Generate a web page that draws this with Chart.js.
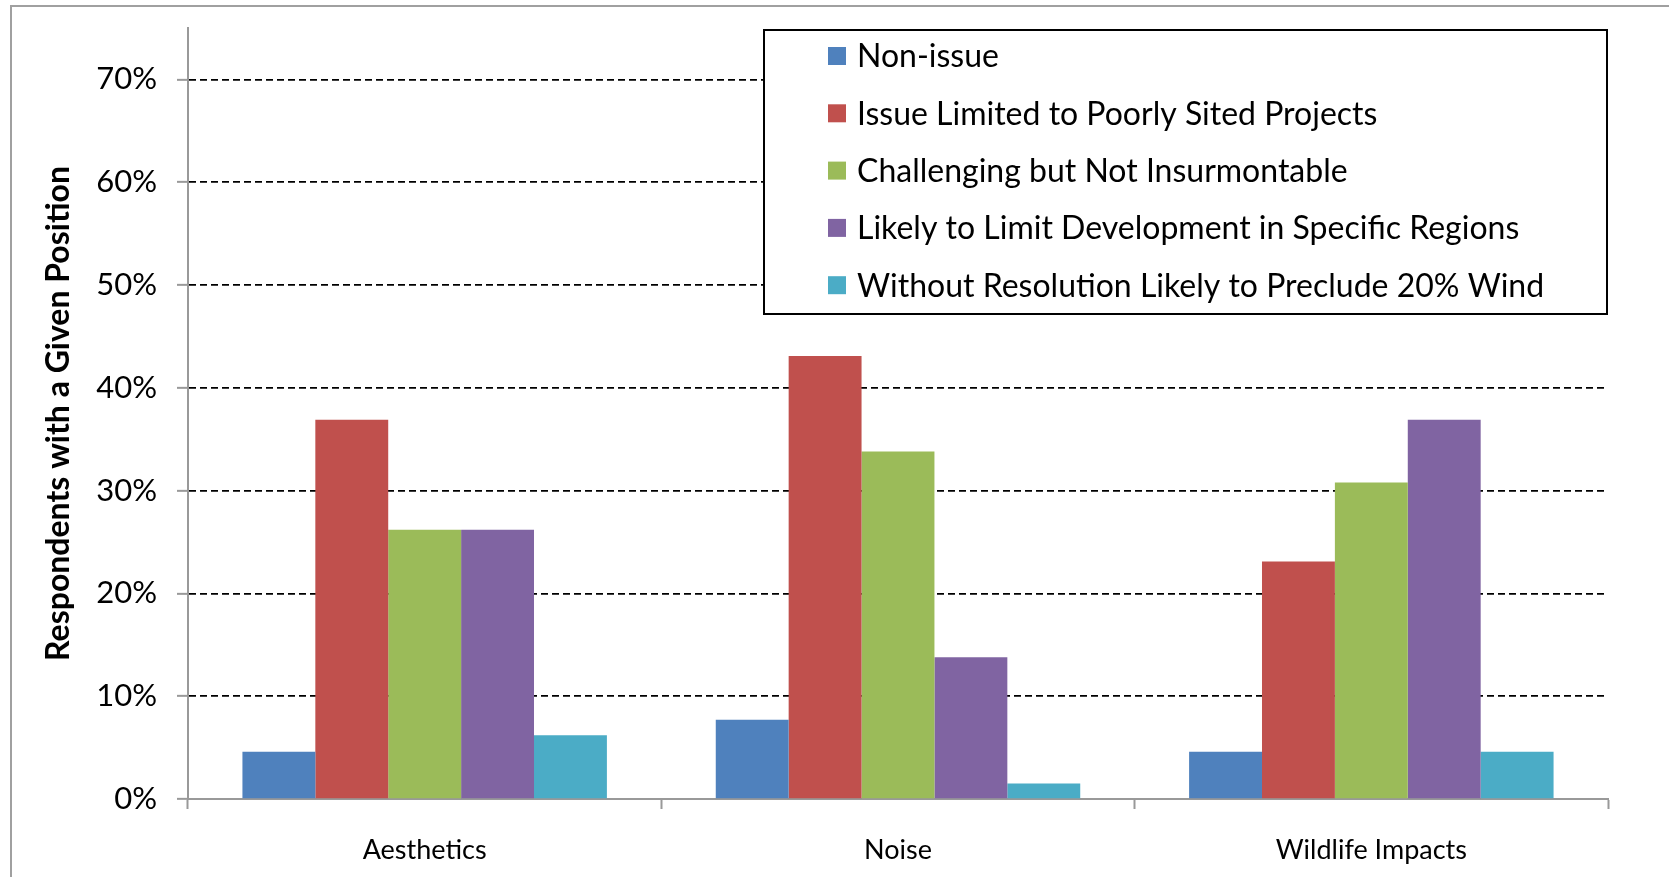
<!DOCTYPE html>
<html>
<head>
<meta charset="utf-8">
<script src="https://cdn.jsdelivr.net/npm/chart.js@4/dist/chart.umd.min.js"></script>
<style>
  html, body { margin: 0; padding: 0; background: #fff; }
  #wrap { width: 1669px; height: 877px; }
</style>
</head>
<body>
<div id="wrap"><canvas id="chart" width="1669" height="877"></canvas></div>
<script>
// ── Data (% of respondents) ──
const categories = ['Aesthetics', 'Noise', 'Wildlife Impacts'];

const seriesLabels = [
  'Non-issue',
  'Issue Limited to Poorly Sited Projects',
  'Challenging but Not Insurmontable',
  'Likely to Limit Development in Specific Regions',
  'Without Resolution Likely to Preclude 20% Wind'
];

const nonIssue     = [4.6, 7.7, 4.6];
const poorlySited  = [36.9, 43.1, 23.1];
const challenging  = [26.2, 33.8, 30.8];
const limitRegions = [26.2, 13.8, 36.9];
const preclude     = [6.2, 1.5, 4.6];

const seriesColors = ['#4F81BD', '#C0504D', '#9BBB59', '#8064A2', '#4BACC6'];

const yTicks = [0, 10, 20, 30, 40, 50, 60, 70];

// ── Fonts / styles ─────────────────────────
const FONT = 'Lato, "Open Sans", "Liberation Sans", sans-serif';

// ── Outer frame (grey line top + left) ─────
const framePlugin = {
  id: 'frame',
  beforeDraw(chart) {
    const ctx = chart.ctx;
    ctx.save();
    ctx.fillStyle = '#fff';
    ctx.fillRect(0, 0, chart.width, chart.height);
    ctx.strokeStyle = '#a0a0a0';
    ctx.lineWidth = 2;
    ctx.beginPath();
    ctx.moveTo(chart.width + 2, 6);
    ctx.lineTo(11, 6);
    ctx.lineTo(11, chart.height + 2);
    ctx.stroke();
    ctx.restore();
  }
};

// ── Boxed legend inside the plot ───────────
const boxLegend = {
  id: 'boxLegend',
  afterDraw(chart) {
    const ctx = chart.ctx;
    const box = { x: 764, y: 30, w: 843, h: 284 };
    const rowH = 57.3;
    ctx.save();
    ctx.fillStyle = '#fff';
    ctx.fillRect(box.x, box.y, box.w, box.h);
    ctx.strokeStyle = '#000';
    ctx.lineWidth = 2;
    ctx.strokeRect(box.x, box.y, box.w, box.h);

    ctx.font = '32px ' + FONT;
    ctx.textBaseline = 'middle';
    chart.data.datasets.forEach((ds, i) => {
      const cy = box.y + 26 + i * rowH;
      ctx.fillStyle = ds.backgroundColor;
      ctx.fillRect(828, cy - 9, 18, 18);
      ctx.fillStyle = '#000';
      ctx.fillText(ds.label, 857, cy + 1);
    });
    ctx.restore();
  }
};

const seriesData = [nonIssue, poorlySited, challenging, limitRegions, preclude];

new Chart(document.getElementById('chart'), {
  type: 'bar',
  data: {
    labels: categories,
    datasets: seriesData.map((d, i) => ({
      label:           seriesLabels[i],
      data:            d,
      backgroundColor: seriesColors[i],
      borderWidth:     0,
      categoryPercentage: 0.77,
      barPercentage:   1.0
    }))
  },
  options: {
    responsive: false,
    animation:  false,
    devicePixelRatio: 1,
    layout: { padding: { top: 28, right: 61, bottom: 0, left: 0 } },
    plugins: {
      legend:  { display: false },
      tooltip: { enabled: false }
    },
    scales: {
      x: {
        afterFit: (s) => { s.height = 78; s.paddingLeft = 0; s.paddingRight = 0; },
        grid: {
          offset: true,
          drawOnChartArea: false,
          drawTicks: true,
          tickLength: 10,
          tickColor: '#999',
          tickWidth: 2
        },
        border: { color: '#999', width: 2 },
        ticks: {
          color: '#000',
          padding: 25,
          font: { family: FONT, size: 27 }
        }
      },
      y: {
        min: 0,
        max: 75,
        afterFit: (s) => { s.width = 188; s.paddingTop = 0; s.paddingBottom = 0; },
        afterBuildTicks: (s) => {
          s.ticks = yTicks.map(v => ({ value: v }));
        },
        grid: {
          color: (c) => (c.tick && c.tick.value === 0) ? 'rgba(0,0,0,0)' : '#000',
          lineWidth: 1.7,
          drawTicks: true,
          tickLength: 11,
          tickColor: '#999',
          tickWidth: 2,
          tickBorderDash: []
        },
        border: { color: '#999', width: 2, dash: [7, 4] },
        ticks: {
          color: '#000',
          padding: 20,
          font: { family: FONT, size: 31 },
          callback: (v) => v + '%'
        },
        title: {
          display: true,
          text: 'Respondents with a Given Position',
          color: '#000',
          font: { family: FONT, size: 32, weight: 'bold' },
          padding: { top: 39, bottom: 0 }
        }
      }
    }
  },
  plugins: [framePlugin, boxLegend]
});
</script>
</body>
</html>
